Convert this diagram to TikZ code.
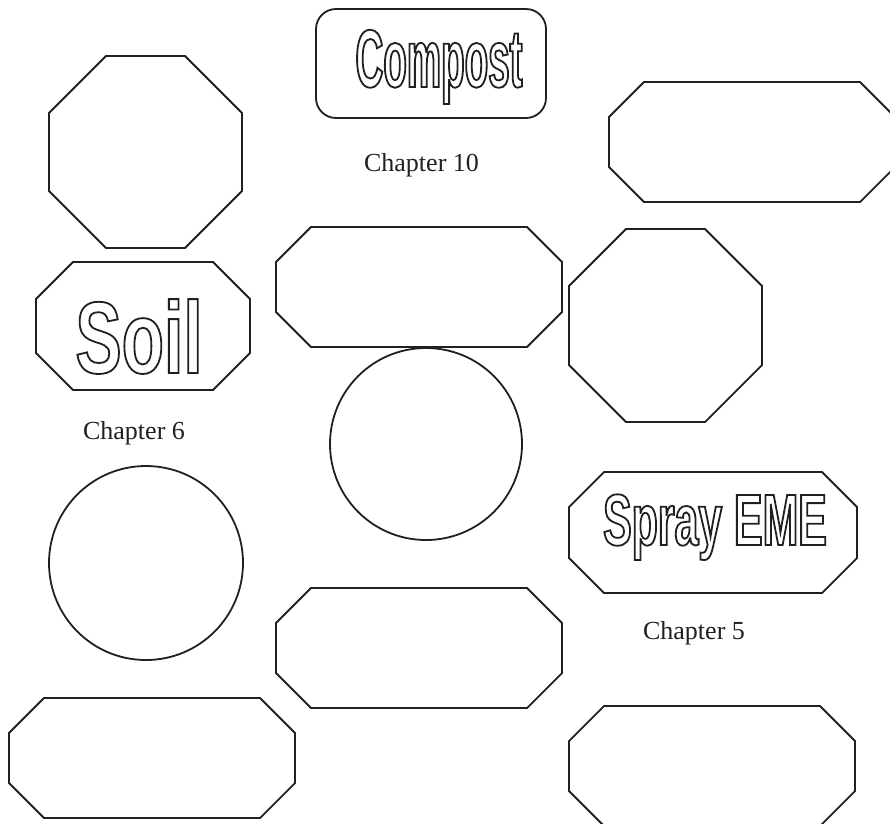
\documentclass[tikz,border=0pt]{standalone}
\usepackage{fontspec}
\setmainfont{Liberation Serif}
\newfontfamily\compfont[FakeStretch=0.47]{Liberation Sans Bold}
\newfontfamily\soilfont[FakeStretch=0.68]{Liberation Sans Bold}
\newfontfamily\sprayfont[FakeStretch=0.59]{Liberation Sans Bold}
\newcommand\outltext[1]{\special{pdf:literal direct 1 Tr 1.8 w}#1\special{pdf:literal direct 0 Tr 1.8 w}}
\definecolor{ink}{RGB}{35,31,32}
% octagon: x1 y1 x2 y2 cut
\newcommand\octag[5]{%
  \draw[shapeline] (#1+#5,#2) -- (#3-#5,#2) -- (#3,#2+#5) -- (#3,#4-#5) -- (#3-#5,#4)
    -- (#1+#5,#4) -- (#1,#4-#5) -- (#1,#2+#5) -- cycle;}
\tikzset{
  shapeline/.style={draw=ink, line width=1.8pt, line join=miter},
  chaplabel/.style={font=\fontsize{26}{26}\selectfont, text=ink, inner sep=0pt, anchor=base},
  titletext/.style={inner sep=0pt, anchor=base, text=ink},
}
\begin{document}
\begin{tikzpicture}[x=1pt,y=-1pt]
\useasboundingbox (0,0) rectangle (890,823);
\fill[white] (0,0) rectangle (890,823);
\clip (0,0) rectangle (890,823);
% rounded box
\draw[shapeline, rounded corners=20pt] (316,9) rectangle (546,118);
% octagons
\octag{49}{56}{242}{248}{57}
\octag{609}{82}{895}{202}{35}
\octag{36}{262}{250}{390}{37}
\octag{276}{227}{562}{347}{35}
\octag{569}{229}{762}{422}{57}
\octag{569}{472}{857}{593}{35}
\octag{276}{588}{562}{708}{35}
\octag{9}{698}{295}{818}{35}
\octag{569}{706}{855}{826}{35}
% circles
\draw[shapeline] (426,444) circle[radius=96];
\draw[shapeline] (146,563) circle[radius=97];
% labels
\node[chaplabel] (ch10) at (421.5,171) {Chapter 10};
\node[chaplabel] (ch6) at (134,439) {Chapter 6};
\node[chaplabel] (ch5) at (694,639) {Chapter 5};
% outlined titles
\node[titletext] (compost) at (439,87) {\compfont\fontsize{82}{82}\selectfont\outltext{Compost}};
\node[titletext] (soil) at (139,373) {\soilfont\fontsize{102}{102}\selectfont\outltext{Soil}};
\node[titletext] (spray) at (715,545) {\sprayfont\fontsize{72.6}{72.6}\selectfont\outltext{Spray EME}};
\end{tikzpicture}
\end{document}
